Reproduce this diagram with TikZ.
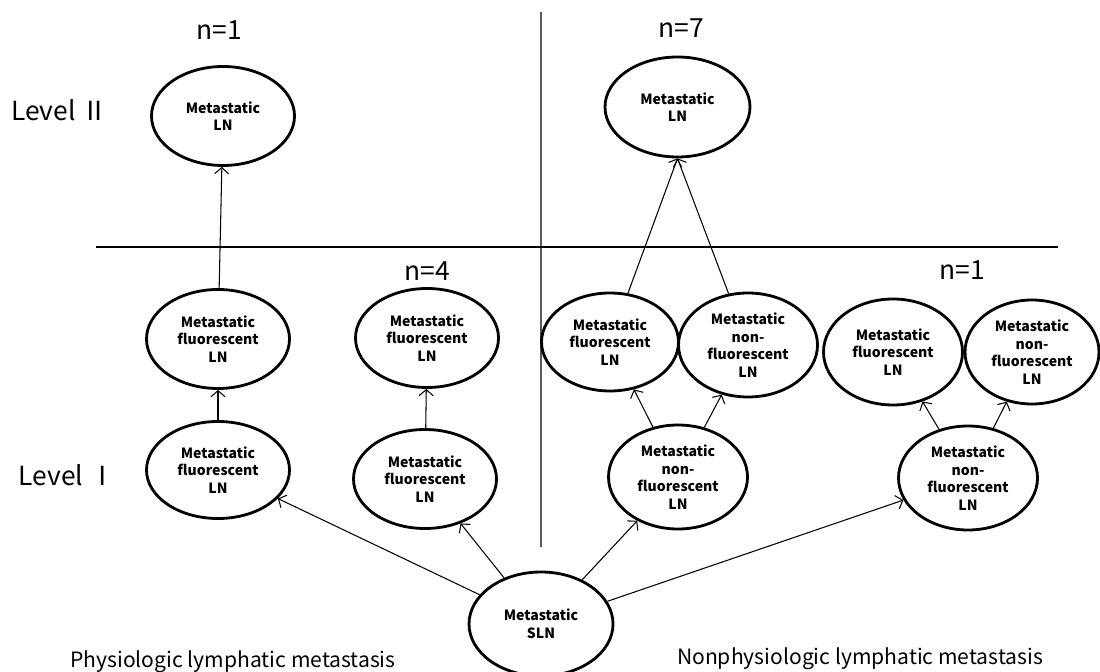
\documentclass[tikz,border=0pt]{standalone}
\usepackage{fontspec}
\setmainfont{Noto Sans CJK KR}
\usetikzlibrary{shapes.geometric,arrows.meta}

\begin{document}
\begin{tikzpicture}[
   lnode/.style={ellipse,draw,line width=1.6pt,inner sep=0pt,align=center,
     minimum width=2.86cm,minimum height=1.98cm,font=\fontsize{8}{10}\selectfont\bfseries},
   nfsize/.style={minimum width=2.78cm,minimum height=2.08cm},
   arr/.style={-{Straight Barb[length=3.5pt,width=8pt]},line width=0.6pt},
   count/.style={font=\fontsize{15}{17}\selectfont},
   route/.style={font=\fontsize{12}{14}\selectfont,anchor=base},
  ]
   \useasboundingbox (0,0) rectangle (22,13.42);
   % dividing lines
   \draw [black!65,line width=0.8pt] (10.82,13.18) -- (10.82,2.48);
   \draw [line width=0.7pt] (1.92,8.48) -- (21.16,8.48);
   % level II
   \node (topL) [lnode] at (4.46,11.10) {Metastatic\\LN};
   \node (topR) [lnode,minimum width=2.9cm,minimum height=2cm] at (13.55,11.28) {Metastatic\\LN};
   % upper row of level I
   \node (upA) [lnode] at (4.36,6.64) {Metastatic\\fluorescent\\LN};
   \node (upB) [lnode] at (8.54,6.66) {Metastatic\\fluorescent\\LN};
   \node (upC) [lnode,minimum width=2.74cm,minimum height=1.96cm] at (12.20,6.58) {Metastatic\\fluorescent\\LN};
   \node (upD) [lnode,nfsize] at (14.96,6.52) {Metastatic\\non-\\fluorescent\\LN};
   \node (upE) [lnode,nfsize,minimum height=2.12cm] at (17.86,6.38) {Metastatic\\fluorescent\\LN};
   \node (upF) [lnode,nfsize,minimum width=2.68cm] at (20.64,6.38) {Metastatic\\non-\\fluorescent\\LN};
   % lower row of level I
   \node (lowA) [lnode,minimum height=1.94cm] at (4.36,4.02) {Metastatic\\fluorescent\\LN};
   \node (lowB) [lnode] at (8.50,3.84) {Metastatic\\fluorescent\\LN};
   \node (lowC) [lnode,nfsize] at (13.56,3.88) {Metastatic\\non-\\fluorescent\\LN};
   \node (lowD) [lnode,nfsize] at (19.36,3.86) {Metastatic\\non-\\fluorescent\\LN};
   % sentinel node
   \node (sln) [lnode,minimum width=2.88cm,minimum height=2.08cm] at (10.82,0.94) {Metastatic\\SLN};
   % counts and labels
   \node (cntA) [count] at (4.38,12.82) {n=1};
   \node (cntB) [count] at (13.62,12.86) {n=7};
   \node (cntC) [count] at (8.54,8.00) {n=4};
   \node (cntD) [count] at (19.24,8.02) {n=1};
   \node (lvlII) [count,anchor=west] at (0.1,11.22) {Level Ⅱ};
   \node (lvlI) [count,anchor=west] at (0.25,3.92) {Level Ⅰ};
   \node (phys) [route] at (4.66,0.08) {Physiologic lymphatic metastasis};
   \node (nonphys) [route] at (17.2,0.14) {Nonphysiologic lymphatic metastasis};
   % spread
   \draw [arr] (lowA) -- (upA);
   \draw [arr] (upA) -- (topL);
   \draw [arr] (lowB) -- (upB);
   \draw [arr] (lowC) -- (upC);
   \draw [arr] (lowC) -- (upD);
   \draw [arr] (upC) -- (topR.south);
   \draw [arr] (upD) -- (topR.south);
   \draw [arr] (lowD) -- (upE);
   \draw [arr] (lowD) -- (upF);
   \draw [arr] (sln) -- (lowA);
   \draw [arr] (sln) -- (lowB);
   \draw [arr] (sln) -- (lowC);
   \draw [arr] (sln) -- (lowD);
  \end{tikzpicture}
\end{document}
